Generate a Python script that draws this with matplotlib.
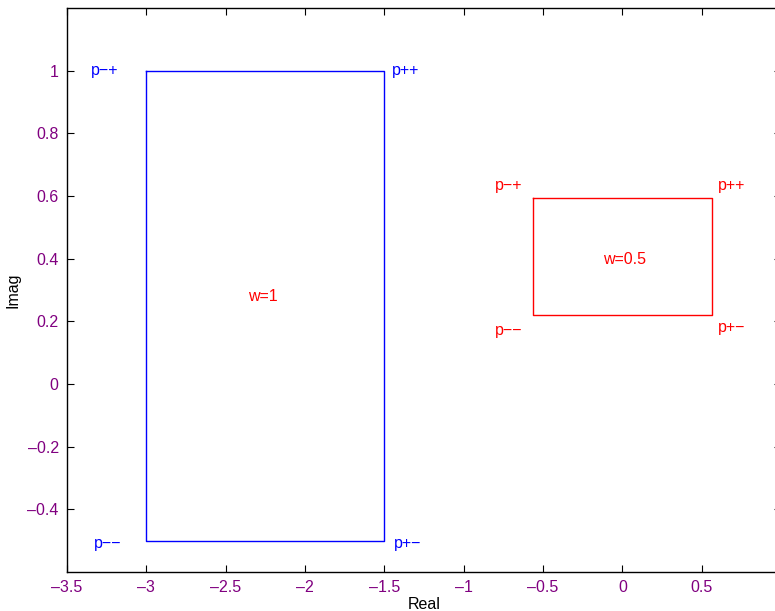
import matplotlib
matplotlib.use('Agg')
import matplotlib.pyplot as plt
from matplotlib.ticker import FuncFormatter

plt.rcParams['font.family'] = ['Liberation Sans', 'DejaVu Sans']

# rectangle corners (real, imag)
blue_x = [-3.0, -1.5, -1.5, -3.0, -3.0]
blue_y = [1.0, 1.0, -0.5, -0.5, 1.0]
red_x = [-0.565, 0.565, 0.565, -0.565, -0.565]
red_y = [0.595, 0.595, 0.22, 0.22, 0.595]

# corner labels
blue_lbl = ['p\u2212+', 'p++', 'p\u2212\u2212', 'p+\u2212']
blue_lx = [-3.35, -1.45, -3.33, -1.44]
blue_ly = [1.0, 1.0, -0.51, -0.51]
red_lbl = ['p\u2212+', 'p++', 'p\u2212\u2212', 'p+\u2212']
red_lx = [-0.80, 0.605, -0.80, 0.605]
red_ly = [0.633, 0.633, 0.17, 0.18]

xticks = [-3.5, -3, -2.5, -2, -1.5, -1, -0.5, 0, 0.5]
yticks = [-0.4, -0.2, 0, 0.2, 0.4, 0.6, 0.8, 1]
tick_col = '#800080'
fs = 11.5

fig = plt.figure(figsize=(7.75, 6.11), dpi=100)
ax = fig.add_axes([67/775, 39/611, 714/775, 564/611])

ax.plot(blue_x, blue_y, color='blue', linewidth=1)
ax.plot(red_x, red_y, color='red', linewidth=1)

for t, x, y in zip(blue_lbl, blue_lx, blue_ly):
    ax.text(x, y, t, color='blue', fontsize=fs, va='center', ha='left')
for t, x, y in zip(red_lbl, red_lx, red_ly):
    ax.text(x, y, t, color='red', fontsize=fs, va='center', ha='left')
ax.text(-2.36, 0.278, 'w=1', color='red', fontsize=fs, va='center', ha='left')
ax.text(-0.12, 0.396, 'w=0.5', color='red', fontsize=fs, va='center', ha='left')

fmt = FuncFormatter(lambda v, p: ('%g' % v).replace('-', '\u2013'))
ax.set_xlim(-3.5, 1)
ax.set_ylim(-0.6, 1.2)
ax.set_xticks(xticks)
ax.set_yticks(yticks)
ax.xaxis.set_major_formatter(fmt)
ax.yaxis.set_major_formatter(fmt)
ax.tick_params(direction='in', top=True, right=True, length=5, width=0.8,
               labelsize=fs, labelcolor=tick_col, pad=6)
for s in ax.spines.values():
    s.set_linewidth(1)
ax.set_xlabel('Real', fontsize=fs, labelpad=1)
ax.set_ylabel('Imag', fontsize=fs, labelpad=5)

fig.savefig('out.png', dpi=100)
